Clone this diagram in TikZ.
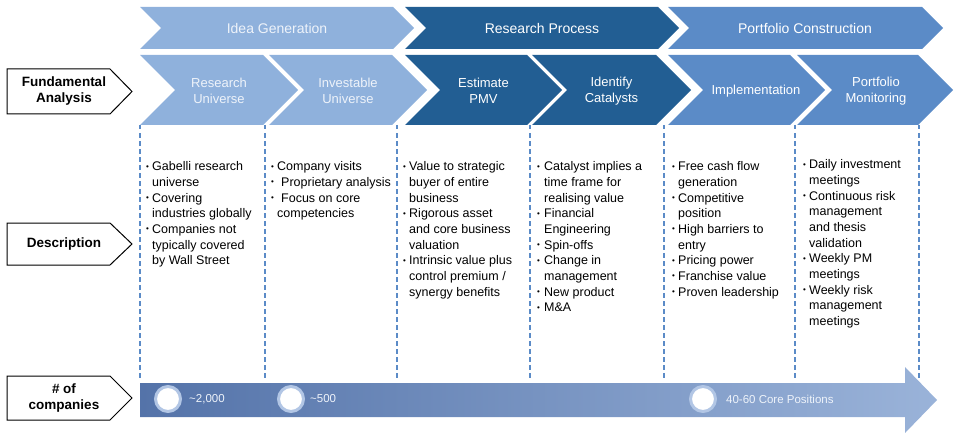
\documentclass[tikz,border=0pt]{standalone}
\usepackage{fontspec}
\setmainfont{Liberation Sans}
\usetikzlibrary{positioning}
\definecolor{ideablue}{HTML}{8FB1DC}
\definecolor{researchblue}{HTML}{225E93}
\definecolor{portblue}{HTML}{5B8BC7}
\definecolor{ringblue}{HTML}{B2C6E5}
\definecolor{paletext}{HTML}{EEF3FA}
\definecolor{arrowleft}{HTML}{5473A9}
\definecolor{arrowmid}{HTML}{6985BA}
\definecolor{arrowright}{HTML}{9AB3D9}
\newcommand{\bu}{\raisebox{1.6pt}{\fontsize{8}{8}\selectfont\textbullet}}

\begin{document}
\begin{tikzpicture}[x=1pt, y=-1pt,
    phase/.style ={text=white, font=\fontsize{14}{16}\selectfont},
    stage/.style ={text=white, align=center, font=\fontsize{13}{16}\selectfont},
    tag/.style   ={align=center, font=\bfseries\fontsize{13.5}{16}\selectfont},
    desc/.style  ={anchor=north west, inner sep=0pt, font=\fontsize{12.5}{15.7}\selectfont},
    tagbox/.style={draw=black, line width=1pt, fill=white},
    sep/.style   ={draw=portblue, line width=1.1pt, dash pattern=on 4.5pt off 3.5pt},
    dot/.style   ={circle, fill=white, draw=ringblue, line width=3pt, minimum size=25pt, inner sep=0pt},
    count/.style ={text=paletext, inner sep=1pt, font=\fontsize{11.5}{13}\selectfont}]
   \useasboundingbox (0,0) rectangle (955,433);

   \foreach \xa/\xb/\col in {140/393/ideablue, 405/658/researchblue, 668/922/portblue}
     \fill[\col] (\xa,7) -- (\xb,7) -- (\xb+21,28) -- (\xb,49) -- (\xa,49) -- (\xa+21,28) -- cycle;
   \foreach \xa/\xb/\col in {140/263/ideablue, 269/392/ideablue, 405/527/researchblue,
                            532/656/researchblue, 668/790/portblue, 797/918/portblue}
     \fill[\col] (\xa,55) -- (\xb,55) -- (\xb+35,90) -- (\xb,125) -- (\xa,125) -- (\xa+35,90) -- cycle;

   \node[phase, text=paletext] (idea) at (277,28)   {Idea Generation};
   \node[phase] (research)  at (542,28)   {Research Process};
   \node[phase] (portfolio) at (805,28)   {Portfolio Construction};

   \node[stage, text=paletext] (univ) at (219,91)   {Research\\Universe};
   \node[stage, text=paletext] (inv)  at (348,91)   {Investable\\Universe};
   \node[stage] (pmv)   at (483.5,91) {Estimate\\PMV};
   \node[stage] (cat)   at (611.5,91) {Identify\\Catalysts};
   \node[stage] (impl)  at (756,91)   {Implementation};
   \node[stage] (mon)   at (876,91)   {Portfolio\\Monitoring};

   \foreach \x in {140,265,397,530,664,795,919}
     \draw[sep] (\x,125) -- (\x,378);

   \draw[tagbox] (7,69) -- (110,69) -- (132,91.5) -- (110,114) -- (7,114) -- cycle;
   \draw[tagbox] (7,223) -- (110,223) -- (132,244) -- (110,265) -- (7,265) -- cycle;
   \draw[tagbox] (7,376) -- (110,376) -- (132,398) -- (110,420) -- (7,420) -- cycle;
   \node[tag] (fund)  at (64,91.5)  {Fundamental\\Analysis};
   \node[tag] (descr) at (64,244)   {Description};
   \node[tag] (num)   at (64,398)   {\# of\\companies};

   \node[desc] (d1) at (146,159.5) {\begin{tabular}{@{}p{6pt}@{}l@{}}
     \bu & Gabelli research\\
         & universe\\
     \bu & Covering\\
         & industries globally\\
     \bu & Companies not\\
         & typically covered\\
         & by Wall Street
   \end{tabular}};
   \node[desc] (d2) at (271,159.5) {\begin{tabular}{@{}p{6pt}@{}l@{}}
     \bu & Company visits\\
     \bu & \hspace{4pt}Proprietary analysis\\
     \bu & \hspace{4pt}Focus on core\\
         & competencies
   \end{tabular}};
   \node[desc] (d3) at (403,159.5) {\begin{tabular}{@{}p{6pt}@{}l@{}}
     \bu & Value to strategic\\
         & buyer of entire\\
         & business\\
     \bu & Rigorous asset\\
         & and core business\\
         & valuation\\
     \bu & Intrinsic value plus\\
         & control premium /\\
         & synergy benefits
   \end{tabular}};
   \node[desc] (d4) at (537,159.5) {\begin{tabular}{@{}p{7pt}@{}l@{}}
     \bu & Catalyst implies a\\
         & time frame for\\
         & realising value\\
     \bu & Financial\\
         & Engineering\\
     \bu & Spin-offs\\
     \bu & Change in\\
         & management\\
     \bu & New product\\
     \bu & M\&A
   \end{tabular}};
   \node[desc] (d5) at (672,159.5) {\begin{tabular}{@{}p{6pt}@{}l@{}}
     \bu & Free cash flow\\
         & generation\\
     \bu & Competitive\\
         & position\\
     \bu & High barriers to\\
         & entry\\
     \bu & Pricing power\\
     \bu & Franchise value\\
     \bu & Proven leadership
   \end{tabular}};
   \node[desc] (d6) at (803,157.5) {\begin{tabular}{@{}p{6pt}@{}l@{}}
     \bu & Daily investment\\
         & meetings\\
     \bu & Continuous risk\\
         & management\\
         & and thesis\\
         & validation\\
     \bu & Weekly PM\\
         & meetings\\
     \bu & Weekly risk\\
         & management\\
         & meetings
   \end{tabular}};

   \shade[left color=arrowleft, middle color=arrowmid, right color=arrowright]
     (140,383) -- (905,383) -- (905,367) -- (937,400) -- (905,433) -- (905,417) -- (140,417) -- cycle;

   \node[dot] (c1) at (168,399) {};
   \node[dot] (c2) at (291,399) {};
   \node[dot] (c3) at (703,399) {};
   \node[count, right=6pt of c1] (n1) {\textasciitilde 2,000};
   \node[count, right=4pt of c2] (n2) {\textasciitilde 500};
   \node[count, right=8pt of c3] (n3) {40-60 Core Positions};
 \end{tikzpicture}
\end{document}
